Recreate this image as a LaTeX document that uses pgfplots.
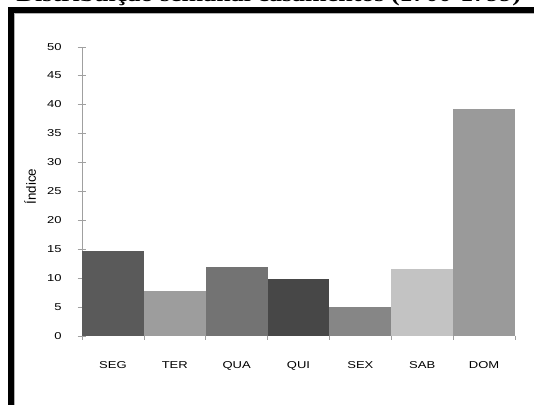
\documentclass[border=0pt]{standalone}
\usepackage{fontspec}
\setmainfont{Liberation Sans}
\newfontfamily\tickfont[FakeStretch=1.3]{Liberation Sans}
\newfontfamily\titlefont[FakeStretch=1.25]{Liberation Serif}
\usepackage{pgfplots}
\pgfplotsset{compat=1.18}

\definecolor{axisgray}{HTML}{A0A0A0}
\definecolor{cSEG}{HTML}{5A5A5A}
\definecolor{cTER}{HTML}{9D9D9D}
\definecolor{cQUA}{HTML}{737373}
\definecolor{cQUI}{HTML}{474747}
\definecolor{cSEX}{HTML}{868686}
\definecolor{cSAB}{HTML}{C3C3C3}
\definecolor{cDOM}{HTML}{9A9A9A}

\begin{document}
\begin{tikzpicture}
\useasboundingbox (0,0) rectangle (400.5pt,303.75pt);

% title (its upper part lies above the page)
\node[anchor=base, inner sep=0pt] at (201.5pt,303pt)
  {\titlefont\bfseries\fontsize{15.6}{18}\selectfont Distribuição semanal casamentos (1700-1799)};

% heavy frame on the left and top
\fill[black] (6pt,0) rectangle (10.5pt,298.7pt);
\fill[black] (6pt,293.8pt) rectangle (400.5pt,298.7pt);
\fill[gray!60] (10.5pt,0) rectangle (11.3pt,293.8pt);
\fill[gray!60] (10.5pt,293.0pt) rectangle (400.5pt,293.8pt);

\begin{axis}[
  at={(61.5pt,52pt)}, anchor=south west,
  scale only axis, width=324.75pt, height=216.75pt,
  xmin=-0.5, xmax=6.5, ymin=0, ymax=50,
  axis lines*=left,
  axis line style={draw=axisgray, -},
  ytick={0,5,...,50},
  tick align=center, major tick length=6.5pt,
  ytick style={draw=axisgray},
  xtick={0,...,6},
  xticklabels={SEG,TER,QUA,QUI,SEX,SAB,DOM},
  xtick style={draw=none},
  ticklabel style={font=\tickfont\fontsize{7.5}{9}\selectfont},
  yticklabel style={xshift=-8.5pt},
  xticklabel style={yshift=-12.5pt},
  /pgf/number format/assume math mode=true,
  ylabel={Índice},
  ylabel style={at={(axis description cs:-0.12,0.516)}, anchor=center,
                font=\fontsize{10}{12}\selectfont},
  clip=false,
]
\addplot[ybar, bar width=1, bar shift=0pt, fill=cSEG, draw=none] coordinates {(0,14.7)};
\addplot[ybar, bar width=1, bar shift=0pt, fill=cTER, draw=none] coordinates {(1,7.8)};
\addplot[ybar, bar width=1, bar shift=0pt, fill=cQUA, draw=none] coordinates {(2,11.8)};
\addplot[ybar, bar width=1, bar shift=0pt, fill=cQUI, draw=none] coordinates {(3,9.8)};
\addplot[ybar, bar width=1, bar shift=0pt, fill=cSEX, draw=none] coordinates {(4,4.9)};
\addplot[ybar, bar width=1, bar shift=0pt, fill=cSAB, draw=none] coordinates {(5,11.5)};
\addplot[ybar, bar width=1, bar shift=0pt, fill=cDOM, draw=none] coordinates {(6,39.2)};
% category separators below the axis
\pgfplotsinvokeforeach{-0.5,0.5,1.5,2.5,3.5,4.5,5.5,6.5}{
  \draw[axisgray] (axis cs:#1,0) -- ([yshift=-3pt]axis cs:#1,0);
}
\end{axis}
\end{tikzpicture}
\end{document}
